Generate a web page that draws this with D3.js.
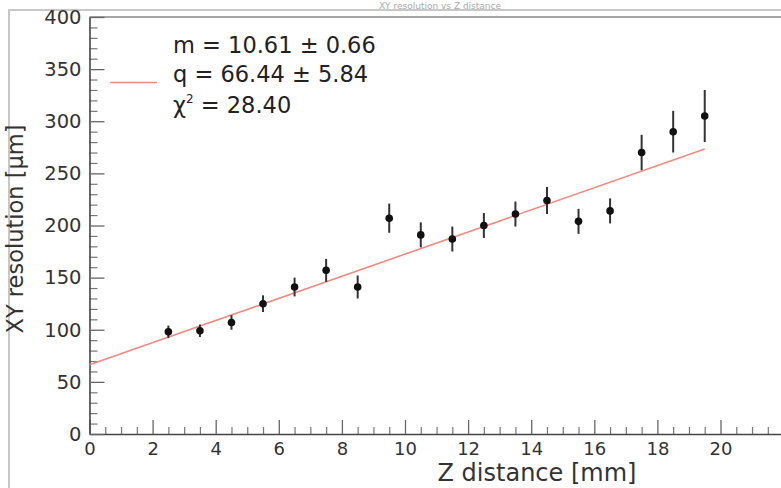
<!DOCTYPE html>
<html>
<head>
<meta charset="utf-8">
<script src="https://cdn.jsdelivr.net/npm/d3@7"></script>
<style>
  body { margin: 0; background: #fff; }
  svg { display: block; font-family: "DejaVu Sans", sans-serif; }
</style>
</head>
<body>
<svg id="chart"></svg>
<script>
// measured points
var zDistance = [2.5, 3.5, 4.5, 5.5, 6.5, 7.5, 8.5, 9.5, 10.5, 11.5, 12.5, 13.5, 14.5, 15.5, 16.5, 17.5, 18.5, 19.5];
var xyResolution = [98, 99, 107, 125, 141, 157, 141, 207, 191, 187, 200, 211, 224, 204, 214, 270, 290, 305];
var xyResolutionErr = [6, 6, 7, 8, 9, 11, 11, 14, 12, 12, 12, 12, 13, 12, 12, 17, 20, 25];

// linear fit
var fitSlope = 10.61;
var fitIntercept = 66.44;
var fitRange = [0, 19.5];
var fitLabels = ['m = 10.61 \u00b1 0.66', 'q = 66.44 \u00b1 5.84', '28.40'];

// axes
var xDomain = [0, 22];
var yDomain = [0, 400];
var xMajorTicks = [0, 2, 4, 6, 8, 10, 12, 14, 16, 18, 20];
var yMajorTicks = [0, 50, 100, 150, 200, 250, 300, 350, 400];
var xTitle = 'Z distance [mm]';
var yTitle = 'XY resolution [\u00b5m]';
var plotTitle = 'XY resolution vs Z distance';

document.addEventListener('DOMContentLoaded', () => {
  var W = 781, H = 488;
  var margin = { left: 89.5, top: 17, bottom: 54 };
  var height = H - margin.top - margin.bottom;
  var width = 22 * 31.55;

  var svg = d3.select('#chart').attr('width', W).attr('height', H);

  svg.append('rect').attr('width', W).attr('height', H).attr('fill', '#fff');

  // canvas border and title strip
  svg.append('text')
    .attr('x', 440).attr('y', 9)
    .attr('text-anchor', 'middle')
    .attr('font-size', '9px')
    .attr('fill', '#aaa')
    .text(plotTitle);
  svg.append('path')
    .attr('d', 'M9,488V10H781')
    .attr('fill', 'none')
    .attr('stroke', '#c8c8c8')
    .attr('stroke-width', 2);

  var x = d3.scaleLinear().domain(xDomain).range([0, width]);
  var y = d3.scaleLinear().domain(yDomain).range([height, 0]);

  var chart = svg.append('g')
    .attr('transform', `translate(${ margin.left }, ${ margin.top })`);

  // frame top
  chart.append('line')
    .attr('x1', 0).attr('x2', width)
    .attr('y1', 0).attr('y2', 0)
    .attr('stroke', '#888').attr('stroke-width', 1.5);

  var xMinor = d3.range(0, 22.01, 0.5).filter(v => v % 2 !== 0);
  var yMinor = d3.range(0, 400.1, 10).filter(v => v % 50 !== 0);

  chart.append('g')
    .attr('transform', `translate(0, ${ height })`)
    .call(d3.axisBottom(x).tickValues(xMinor).tickSize(-7).tickFormat(''))
    .call(g => g.select('.domain').remove())
    .call(g => g.selectAll('line').attr('stroke', '#777').attr('stroke-width', 1.2));

  chart.append('g')
    .attr('transform', `translate(0, ${ height })`)
    .attr('class', 'axis x')
    .call(d3.axisBottom(x).tickValues(xMajorTicks).tickSize(-14).tickSizeOuter(0).tickPadding(8))
    .call(g => g.select('.domain').attr('stroke', '#444').attr('stroke-width', 1.6))
    .call(g => g.selectAll('line').attr('stroke', '#666').attr('stroke-width', 1.3))
    .call(g => g.selectAll('text').attr('font-size', '18px').attr('fill', '#333').attr('font-family', '"DejaVu Sans", sans-serif'));

  chart.append('g')
    .call(d3.axisLeft(y).tickValues(yMinor).tickSize(-8).tickFormat(''))
    .call(g => g.select('.domain').remove())
    .call(g => g.selectAll('line').attr('stroke', '#777').attr('stroke-width', 1.2));

  chart.append('g')
    .attr('class', 'axis y')
    .call(d3.axisLeft(y).tickValues(yMajorTicks).tickSize(-15).tickSizeOuter(0).tickPadding(8))
    .call(g => g.select('.domain').attr('stroke', '#444').attr('stroke-width', 1.6))
    .call(g => g.selectAll('line').attr('stroke', '#666').attr('stroke-width', 1.3))
    .call(g => g.selectAll('text').attr('font-size', '19.5px').attr('fill', '#333').attr('font-family', '"DejaVu Sans", sans-serif'));

  // axis titles
  svg.append('text')
    .attr('x', 537).attr('y', 481)
    .attr('text-anchor', 'middle')
    .attr('font-size', '24px')
    .attr('fill', '#333')
    .text(xTitle);

  svg.append('text')
    .attr('transform', 'translate(23, 229) rotate(-90)')
    .attr('text-anchor', 'middle')
    .attr('font-size', '22.5px')
    .attr('fill', '#333')
    .text(yTitle);

  // fit line
  chart.append('line')
    .attr('x1', x(fitRange[0])).attr('y1', y(fitIntercept + fitSlope * fitRange[0]))
    .attr('x2', x(fitRange[1])).attr('y2', y(fitIntercept + fitSlope * fitRange[1]))
    .attr('stroke', '#f08a80').attr('stroke-width', 1.6);

  var pts = zDistance.map((z, i) => ({ z: z, r: xyResolution[i], e: xyResolutionErr[i] }));

  chart.selectAll('.err')
    .data(pts)
    .enter().append('line')
    .attr('class', 'err')
    .attr('x1', d => x(d.z)).attr('x2', d => x(d.z))
    .attr('y1', d => y(d.r - d.e)).attr('y2', d => y(d.r + d.e))
    .attr('stroke', '#333').attr('stroke-width', 2);

  chart.selectAll('.dot')
    .data(pts)
    .enter().append('circle')
    .attr('class', 'dot')
    .attr('cx', d => x(d.z)).attr('cy', d => y(d.r))
    .attr('r', 3.8)
    .attr('fill', '#111');

  // legend
  svg.append('line')
    .attr('x1', 110).attr('x2', 157)
    .attr('y1', 82.5).attr('y2', 82.5)
    .attr('stroke', '#f08a80').attr('stroke-width', 1.6);

  var leg = svg.append('g')
    .attr('font-size', '22.5px')
    .attr('fill', '#222');
  leg.append('text').attr('x', 173).attr('y', 53).text(fitLabels[0]);
  leg.append('text').attr('x', 173).attr('y', 82).text(fitLabels[1]);
  var chi = leg.append('text').attr('x', 173).attr('y', 113);
  chi.append('tspan').text('\u03c7');
  chi.append('tspan').attr('font-size', '12px').attr('dy', -10).text('2');
  chi.append('tspan').attr('dy', 10).text(' = ' + fitLabels[2]);
});
</script>
</body>
</html>
